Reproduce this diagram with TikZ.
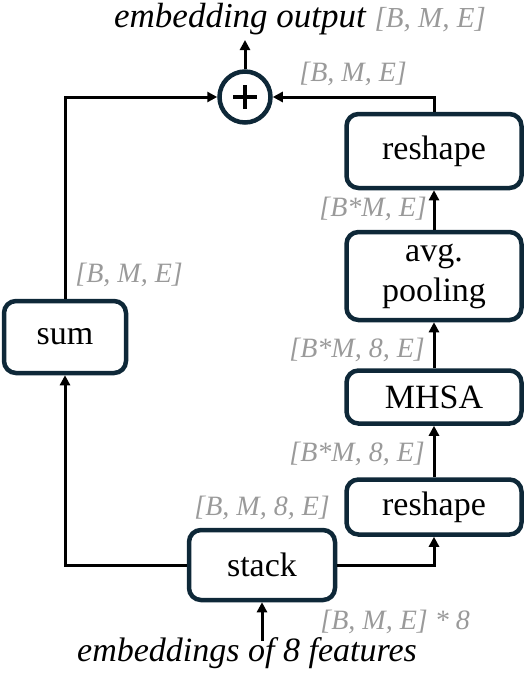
\documentclass[tikz,border=0pt]{standalone}
\usepackage{fontspec}
\setmainfont{Liberation Serif}
\usetikzlibrary{arrows.meta,calc}
\definecolor{boxc}{HTML}{0E2838}
\definecolor{lbl}{HTML}{9A9A9A}
\begin{document}
\begin{tikzpicture}[x=1pt,y=-1pt,
 blk/.style={draw=boxc,line width=4.5pt,rounded corners=12pt,align=center,inner sep=0pt,font=\fontsize{34}{40}\selectfont},
 conn/.style={line width=3pt,-{Triangle[length=10pt,width=10pt]}},
 lab/.style={inner sep=0pt,text=lbl,font=\fontsize{28}{30}\selectfont\itshape,anchor=base east},
 ]
\useasboundingbox (0,0) rectangle (529,673);
% boxes
\node[blk,minimum width=175pt,minimum height=74pt] (r2) at (434,151) {reshape};
\node[blk,minimum width=175pt,minimum height=88pt] (avg) at (434,276) {avg.\\pooling};
\node[blk,minimum width=175pt,minimum height=53pt] (mhsa) at (434,397) {MHSA};
\node[blk,minimum width=175pt,minimum height=55pt] (r1) at (434,507) {reshape};
\node[blk,minimum width=146pt,minimum height=70pt] (stack) at (262,565) {stack};
\node[blk,minimum width=122pt,minimum height=72pt] (sum) at (65,337) {sum};
\node[circle,draw=boxc,line width=4.5pt,minimum size=51pt,inner sep=0pt] (plus) at (245,97) {};
\draw[line width=4pt] ($(plus.center)+(-12,0)$) -- ($(plus.center)+(12,0)$);
\draw[line width=4pt] ($(plus.center)+(0,-12)$) -- ($(plus.center)+(0,12)$);
\coordinate (out) at (245,40);
\coordinate (in) at (262,641);
% connectors
\draw[conn] (sum.north) |- (plus.west);
\draw[conn] (r2.north) |- (plus.east);
\draw[conn] (plus.north) -- (out);
\draw[conn] (avg.north) -- (r2.south);
\draw[conn] (mhsa.north) -- (avg.south);
\draw[conn] (r1.north) -- (mhsa.south);
\draw[conn] (stack.east) -| (r1.south);
\draw[conn] (stack.west) -| (sum.south);
\draw[conn] (in) -- (stack.south);
% texts
\node[inner sep=0pt,anchor=base] (title) at (300,27) {\fontsize{35}{36}\selectfont\itshape embedding output \textcolor{lbl}{\fontsize{29}{30}\selectfont [B, M, E]}};
\node[inner sep=0pt,anchor=base] (inp) at (247,661) {\fontsize{34}{36}\selectfont\itshape embeddings of 8 features};
\node[lab] (l1) at (407,81) {[B, M, E]};
\node[lab] (l2) at (183,282) {[B, M, E]};
\node[lab] (l3) at (427,216) {[B*M, E]};
\node[lab] (l4) at (425,357) {[B*M, 8, E]};
\node[lab] (l5) at (425,461) {[B*M, 8, E]};
\node[lab] (l6) at (330,515) {[B, M, 8, E]};
\node[lab] (l7) at (470,629) {[B, M, E] * 8};
\end{tikzpicture}
\end{document}
